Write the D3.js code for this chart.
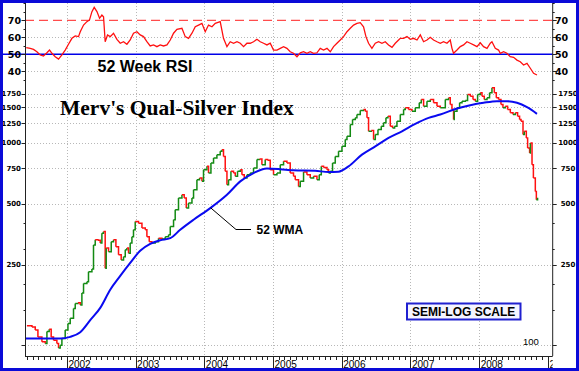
<!DOCTYPE html>
<html><head><meta charset="utf-8">
<script src="https://cdn.jsdelivr.net/npm/d3@7"></script>
<style>html,body{margin:0;padding:0;background:#fff}svg{display:block}</style>
</head><body><svg id="c" width="579" height="371"></svg>
<script>
// ---------- DATA ----------
const yearTicks = [2002, 2003, 2004, 2005, 2006, 2007, 2008, 2009];
const priceTicks = [100, 250, 500, 750, 1000, 1250, 1500, 1750];
const priceMinorTicks = [150, 200, 300, 400];
const rsiTicks = [40, 50, 60, 70];
const rsiMinorTicks = [35, 45, 55, 65, 75, 80];

const priceDates = [2001.418,2001.491,2001.539,2001.578,2001.636,2001.684,2001.709,2001.742,2001.771,2001.805,2001.854,2001.878,2001.902,2001.927,2001.975,
2002.015,2002.048,2002.096,2002.121,2002.160,2002.194,2002.218,2002.242,2002.291,2002.314,2002.364,2002.387,2002.412,2002.451,2002.485,2002.509,2002.533,2002.557,2002.572,2002.606,2002.645,2002.678,2002.713,2002.751,2002.790,2002.824,2002.849,2002.873,2002.897,2002.921,2002.946,2002.969,2002.994,
2003.042,2003.092,2003.140,2003.164,2003.198,2003.237,2003.285,2003.333,2003.383,2003.431,2003.479,2003.504,2003.552,2003.576,2003.624,2003.674,2003.707,2003.737,2003.770,2003.820,2003.843,2003.892,2003.930,2003.965,2003.988,
2004.038,2004.061,2004.096,2004.134,2004.183,2004.231,2004.256,2004.279,2004.304,2004.329,2004.352,2004.387,2004.425,2004.450,2004.483,2004.523,2004.547,2004.581,2004.620,2004.668,2004.716,2004.766,2004.803,2004.838,2004.886,2004.920,2004.959,
2005.007,2005.057,2005.105,2005.153,2005.202,2005.250,2005.298,2005.323,2005.371,2005.396,2005.444,2005.493,2005.541,2005.590,2005.639,2005.672,2005.702,2005.735,2005.785,2005.808,2005.833,2005.866,2005.905,2005.953,
2006.003,2006.051,2006.076,2006.124,2006.157,2006.197,2006.221,2006.269,2006.317,2006.342,2006.367,2006.390,2006.429,2006.463,2006.488,2006.527,2006.575,2006.608,2006.643,2006.672,2006.706,2006.739,2006.769,2006.803,2006.852,2006.900,2006.924,2006.972,
2007.022,2007.070,2007.128,2007.157,2007.191,2007.240,2007.288,2007.336,2007.386,2007.434,2007.507,2007.555,2007.579,2007.604,2007.627,2007.637,2007.677,2007.715,2007.750,2007.798,2007.831,2007.870,2007.910,2007.943,2007.977,
2008.016,2008.041,2008.074,2008.114,2008.151,2008.186,2008.220,2008.249,2008.282,2008.317,2008.346,2008.380,2008.413,2008.453,2008.492,2008.526,2008.559,2008.588,2008.609,2008.638,2008.657,2008.686,2008.705,2008.734,2008.745,2008.769,2008.789,2008.817,2008.832,2008.850];
const priceValues = [125,123,119,110,104,102,117,120,110,106,102,97,100,108,119,
128,136,152,161,162,158,181,202,206,231,238,313,332,330,320,358,365,240,302,290,325,332,307,280,264,274,296,302,285,320,344,372,409,
401,379,372,344,325,320,325,338,335,344,351,386,417,467,534,554,534,476,504,534,586,657,670,645,737,
765,709,795,842,874,908,925,857,723,621,657,723,709,683,723,737,696,670,696,709,751,826,832,780,826,820,737,
696,709,780,810,795,709,683,657,609,645,718,696,670,683,657,696,765,756,737,709,723,795,857,908,
961,1037,1077,1230,1303,1328,1379,1443,1460,1432,1328,1140,1150,1037,1098,1162,1207,1255,1328,1353,1207,1185,1207,1278,1379,1460,1488,1460,
1432,1488,1576,1636,1516,1605,1636,1576,1516,1488,1636,1668,1545,1460,1303,1432,1488,1576,1605,1618,1732,1699,1636,1605,1732,
1766,1699,1636,1668,1766,1870,1766,1668,1636,1545,1488,1516,1460,1406,1379,1406,1353,1303,1278,1098,1140,1057,943,891,999,780,670,575,523,535];

const wmaDates = [2001.393,2001.902,2002.048,2002.194,2002.339,2002.485,2002.630,2002.776,2002.921,2003.066,2003.212,2003.358,2003.504,2003.649,2003.843,2004.086,2004.329,2004.523,2004.716,2004.911,2005.105,2005.298,2005.614,2005.808,2005.953,2006.099,2006.294,2006.488,2006.681,2006.876,2007.070,2007.264,2007.434,2007.677,2007.870,2008.064,2008.259,2008.405,2008.550,2008.696,2008.841];
const wmaValues = [108,108,110,116,133,153,188,220,255,293,317,330,338,372,417,476,554,645,709,747,741,731,727,718,720,765,874,961,1057,1140,1240,1328,1379,1477,1533,1576,1605,1605,1576,1499,1390];

const rsiDates = [2001.408,2001.466,2001.514,2001.563,2001.611,2001.659,2001.709,2001.747,2001.782,2001.830,2001.878,2001.927,2001.975,
2002.023,2002.073,2002.121,2002.169,2002.194,2002.242,2002.291,2002.329,2002.364,2002.397,2002.437,2002.475,2002.509,2002.533,2002.557,2002.591,2002.630,2002.678,2002.728,2002.776,2002.824,2002.873,2002.921,2002.969,
2003.019,2003.067,2003.115,2003.164,2003.212,2003.261,2003.310,2003.358,2003.406,2003.456,2003.504,2003.552,2003.601,2003.674,2003.722,2003.770,2003.820,2003.868,2003.916,2003.965,
2004.013,2004.061,2004.111,2004.159,2004.231,2004.279,2004.329,2004.377,2004.425,2004.475,2004.523,2004.571,2004.620,2004.668,2004.716,2004.766,2004.814,2004.862,2004.911,2004.959,
2005.007,2005.057,2005.105,2005.153,2005.202,2005.250,2005.298,2005.348,2005.396,2005.444,2005.493,2005.541,2005.590,2005.639,2005.687,2005.735,2005.785,2005.833,2005.881,2005.930,2005.978,
2006.026,2006.076,2006.124,2006.172,2006.221,2006.269,2006.317,2006.352,2006.390,2006.439,2006.488,2006.536,2006.585,2006.633,2006.681,2006.731,2006.779,2006.827,2006.852,2006.900,2006.949,2006.997,
2007.045,2007.095,2007.143,2007.191,2007.240,2007.288,2007.336,2007.386,2007.434,2007.482,2007.531,2007.579,2007.604,2007.627,2007.677,2007.725,2007.773,2007.822,2007.870,2007.919,2007.968,
2008.016,2008.064,2008.114,2008.162,2008.186,2008.234,2008.282,2008.307,2008.355,2008.404,2008.452,2008.501,2008.550,2008.598,2008.646,2008.696,2008.744,2008.792,2008.841];
const rsiValues = [53.9,53.5,52.9,51.5,49.6,49.0,50.9,52.5,50.6,48.6,47.2,49.6,52.5,
55.9,59.4,60.8,60.4,63.3,67.2,69.2,70.2,75.1,77.6,75.1,71.2,73.1,72.1,57.4,61.4,60.4,62.4,58.8,56.5,57.4,55.9,58.4,62.4,
63.3,61.4,60.4,57.4,54.9,55.5,54.5,55.5,54.9,55.5,58.4,62.4,64.7,65.3,60.4,59.4,62.4,66.2,67.2,68.2,
63.3,67.2,66.2,68.2,69.2,59.4,54.5,57.4,56.5,57.4,56.5,54.5,56.5,56.5,57.4,58.8,57.4,56.5,55.5,56.5,
52.5,52.5,53.5,54.5,53.5,51.5,50.6,48.6,50.9,51.5,50.6,51.5,50.6,50.9,53.5,52.5,53.5,51.5,54.5,56.5,58.4,
60.4,63.3,65.3,67.2,68.2,68.6,66.2,60.4,56.5,53.5,56.5,57.4,56.5,57.4,55.5,54.1,56.5,58.4,59.4,59.4,60.4,58.8,
59.4,58.4,61.4,57.4,58.4,60.0,58.4,57.4,56.5,57.4,56.5,58.4,53.5,50.6,52.5,54.5,55.5,57.4,56.5,55.5,54.5,
56.8,54.5,53.5,56.5,57.4,53.5,52.5,50.6,51.5,50.6,48.6,48.2,46.6,45.6,43.7,44.7,41.8,38.8,37.8];

// ---------- CHART ----------
const svg = d3.select('#c');
const W = 579, H = 371;
const L = 25, R = 552.7, B = 356, T = 3;
const x = d3.scaleLinear().domain([2001.39, 2009.07]).range([L, R]);
const yP = d3.scaleLog().domain([88.5, 1930]).range([B, 85]);
const yR = d3.scaleLinear().domain([40, 70]).range([71.3, 20.3]);

svg.append('rect').attr('width', W).attr('height', H).attr('fill', '#fff');

const defs = svg.append('defs');
defs.append('clipPath').attr('id', 'plotclip').append('rect')
  .attr('x', 0).attr('y', 0).attr('width', R).attr('height', H);

// grid
const grid = svg.append('g').attr('stroke', '#b8b8b8').attr('stroke-width', 1).attr('stroke-dasharray', '1,2');
grid.selectAll('.vg').data(yearTicks.filter(d => x(d) < R - 5)).join('line')
  .attr('x1', d => Math.round(x(d)) + 0.5).attr('x2', d => Math.round(x(d)) + 0.5)
  .attr('y1', T).attr('y2', B);
grid.selectAll('.hg').data(priceTicks).join('line')
  .attr('x1', L).attr('x2', R)
  .attr('y1', d => Math.round(yP(d)) + 0.5).attr('y2', d => Math.round(yP(d)) + 0.5);
grid.selectAll('.rg').data([40, 60]).join('line')
  .attr('x1', L).attr('x2', R)
  .attr('y1', d => Math.round(yR(d)) + 0.5).attr('y2', d => Math.round(yR(d)) + 0.5);

// RSI reference lines
svg.append('line').attr('x1', L).attr('x2', R).attr('y1', yR(70)).attr('y2', yR(70))
  .attr('stroke', '#ff2020').attr('stroke-width', 1).attr('stroke-dasharray', '9,5');
svg.append('line').attr('x1', 3).attr('x2', R).attr('y1', yR(50)).attr('y2', yR(50))
  .attr('stroke', '#0000e8').attr('stroke-width', 1.6);

// price staircase bars
const bars = svg.append('g').attr('fill', 'none').attr('stroke-width', 1.5);
for (let i = 1; i < priceValues.length; i++) {
  const up = priceValues[i] >= priceValues[i - 1];
  const path = d3.path();
  path.moveTo(x(priceDates[i - 1]), yP(priceValues[i - 1]));
  path.lineTo(x(priceDates[i]), yP(priceValues[i - 1]));
  path.lineTo(x(priceDates[i]), yP(priceValues[i]));
  bars.append('path').attr('d', path.toString()).attr('stroke', up ? '#138a13' : '#ff1010');
}

// WMA
const wma = wmaDates.map((d, i) => [d, wmaValues[i]]);
svg.append('path').datum(wma)
  .attr('d', d3.line().x(d => x(d[0])).y(d => yP(d[1])).curve(d3.curveMonotoneX))
  .attr('fill', 'none').attr('stroke', '#0a0af0').attr('stroke-width', 2);

// RSI line
const rsi = rsiDates.map((d, i) => [d, rsiValues[i]]);
svg.append('path').datum(rsi)
  .attr('d', d3.line().x(d => x(d[0])).y(d => yR(d[1])))
  .attr('fill', 'none').attr('stroke', '#ff1010').attr('stroke-width', 1.3);

// axes lines
const ax = svg.append('g').attr('stroke', '#222').attr('stroke-width', 1);
ax.append('line').attr('x1', L + 0.5).attr('x2', L + 0.5).attr('y1', T).attr('y2', B);
ax.append('line').attr('x1', R).attr('x2', R).attr('y1', T).attr('y2', B);
ax.append('line').attr('x1', L).attr('x2', R).attr('y1', B + 0.5).attr('y2', B + 0.5);

// left/right ticks
function ticks(vals, scale, len) {
  ax.selectAll(null).data(vals).join('line')
    .attr('x1', L + 0.5 - len).attr('x2', L + 0.5)
    .attr('y1', d => Math.round(scale(d)) + 0.5).attr('y2', d => Math.round(scale(d)) + 0.5);
  ax.selectAll(null).data(vals).join('line')
    .attr('x1', R).attr('x2', R + len)
    .attr('y1', d => Math.round(scale(d)) + 0.5).attr('y2', d => Math.round(scale(d)) + 0.5);
}
ticks(rsiTicks, yR, 4);
ticks(rsiMinorTicks, yR, 2);
ticks(priceTicks, yP, 4);
ticks(priceMinorTicks, yP, 2);

// bottom ticks: months & years
const months = d3.range(Math.ceil(2001.39 * 12), Math.floor(2009.07 * 12) + 1).map(m => m / 12);
ax.selectAll(null).data(months).join('line')
  .attr('x1', d => Math.round(x(d)) + 0.5).attr('x2', d => Math.round(x(d)) + 0.5)
  .attr('y1', B).attr('y2', d => Number.isInteger(Math.round(d * 12) / 12) && Math.abs(d - Math.round(d)) < 1e-6 ? H - 3 : B + 4);

// labels
const lab = svg.append('g').attr('fill', '#000');
lab.selectAll(null).data(rsiTicks).join('text')
  .attr('x', 21).attr('y', d => yR(d) + 3.5).attr('text-anchor', 'end')
  .attr('font-family', 'DejaVu Sans').attr('font-weight', 'bold').attr('font-size', 9.5).text(d => d);
lab.selectAll(null).data(rsiTicks).join('text')
  .attr('x', 555).attr('y', d => yR(d) + 3.5).attr('text-anchor', 'start')
  .attr('font-family', 'DejaVu Sans').attr('font-weight', 'bold').attr('font-size', 9.5).text(d => d);
lab.selectAll(null).data(priceTicks.filter(d => d !== 100)).join('text')
  .attr('x', 21).attr('y', d => yP(d) + 2.5).attr('text-anchor', 'end')
  .attr('font-family', 'DejaVu Sans').attr('font-weight', 'bold').attr('font-size', 7).text(d => d);
lab.selectAll(null).data(priceTicks.filter(d => d !== 100)).join('text')
  .attr('x', 568).attr('y', d => yP(d) + 2.5).attr('text-anchor', 'middle')
  .attr('font-family', 'DejaVu Sans').attr('font-weight', 'bold').attr('font-size', 7).text(d => d);
lab.append('text').attr('x', 523).attr('y', yP(100) - 0.5)
  .attr('font-family', 'Liberation Sans').attr('font-size', 9.5).text('100');

lab.append('g').attr('clip-path', 'url(#plotclip)')
  .selectAll('text').data(yearTicks).join('text')
  .attr('x', d => x(d) + 1.5).attr('y', 368.3)
  .attr('font-family', 'Liberation Sans').attr('font-size', 10).text(d => d);

// titles & annotations
svg.append('text').attr('x', 60).attr('y', 115)
  .attr('font-family', 'Liberation Serif').attr('font-weight', 'bold').attr('font-size', 21.5)
  .text("Merv's Qual-Silver Index");
svg.append('text').attr('x', 97.5).attr('y', 71.7)
  .attr('font-family', 'Liberation Sans').attr('font-weight', 'bold').attr('font-size', 16)
  .text('52 Week RSI');

svg.append('path')
  .attr('d', `M${x(2004.09)},${yP(478)}L236,229.5L251,229.5`)
  .attr('fill', 'none').attr('stroke', '#000').attr('stroke-width', 1);
svg.append('text').attr('x', 256.5).attr('y', 234)
  .attr('font-family', 'Liberation Sans').attr('font-weight', 'bold').attr('font-size', 12)
  .text('52 WMA');

svg.append('rect').attr('x', 407).attr('y', 303.5).attr('width', 113.5).attr('height', 16)
  .attr('fill', '#f4f4ff').attr('stroke', '#2020d0').attr('stroke-width', 2);
svg.append('text').attr('x', 463.7).attr('y', 316.3).attr('text-anchor', 'middle')
  .attr('font-family', 'Liberation Sans').attr('font-weight', 'bold').attr('font-size', 12)
  .text('SEMI-LOG SCALE');

// outer border
svg.append('rect').attr('x', 1.5).attr('y', 1.5).attr('width', W - 3).attr('height', H - 3)
  .attr('fill', 'none').attr('stroke', '#0a0ad8').attr('stroke-width', 3);
</script></body></html>
